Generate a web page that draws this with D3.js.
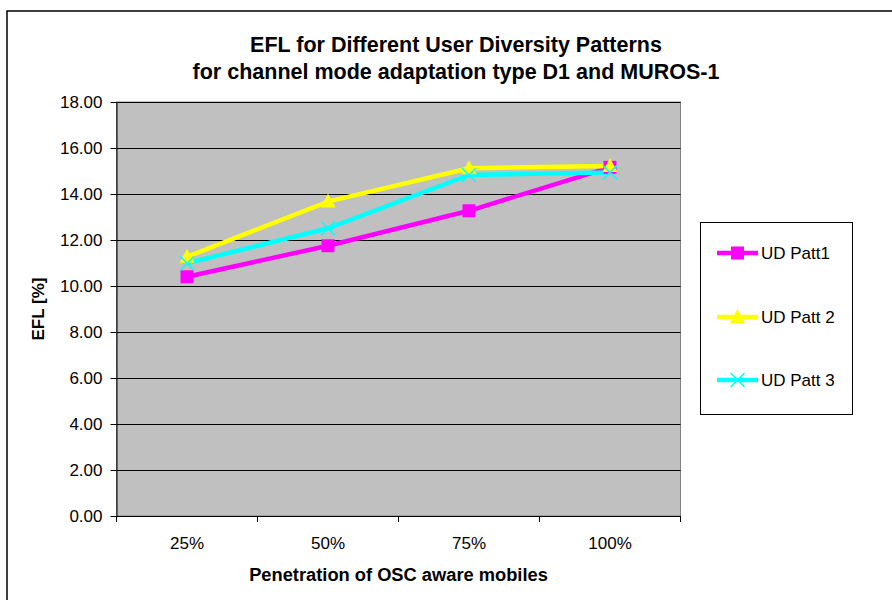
<!DOCTYPE html>
<html><head><meta charset="utf-8">
<script src="https://cdn.jsdelivr.net/npm/d3@7"></script>
<style>body{margin:0;background:#fff}svg{display:block}text{font-family:Arial,"Liberation Sans",sans-serif}</style>
</head><body><svg id="c" width="892" height="600"></svg>
<script>
const categories = ["25%", "50%", "75%", "100%"];
const yTicks = [0, 2, 4, 6, 8, 10, 12, 14, 16, 18];
const seriesNames = ["UD Patt1", "UD Patt 2", "UD Patt 3"];
const patt1 = [10.40, 11.75, 13.27, 15.16];
const patt2 = [11.27, 13.67, 15.12, 15.22];
const patt3 = [10.99, 12.51, 14.83, 14.94];
const colors = ["#FF00FF", "#FFFF00", "#00FFFF"];
const markers = ["square", "triangle", "x"];

const svg = d3.select("#c");
svg.append("path").attr("d","M7,600 V11 H892").attr("fill","none").attr("stroke","#000").attr("stroke-width",1.5);

const L=116.5, R=680.5, T=102, B=516;
const x = d3.scaleBand().domain(categories).range([L,R]);
const y = d3.scaleLinear().domain([0,18]).range([B,T]);

svg.append("rect").attr("x",L).attr("y",T).attr("width",R-L).attr("height",B-T).attr("fill","#C0C0C0").attr("stroke","#808080");
svg.append("g").selectAll("line").data(yTicks.filter(d=>d>0)).join("line")
 .attr("x1",L).attr("x2",R).attr("y1",d=>Math.round(y(d))+0.5).attr("y2",d=>Math.round(y(d))+0.5).attr("stroke","#000").attr("stroke-width",1);

const yAxis = svg.append("g").attr("transform",`translate(${L},0)`)
 .call(d3.axisLeft(y).tickValues(yTicks).tickFormat(d3.format(".2f")).tickSize(6).tickSizeOuter(0));
yAxis.select(".domain").attr("stroke","#000");
yAxis.selectAll("text").attr("font-size",17).attr("fill","#000").attr("dx",-5).attr("font-family","Arial");

const xAxis = svg.append("g").attr("transform",`translate(0,${B})`)
 .call(d3.axisBottom(x).tickSize(0).tickSizeOuter(0));
xAxis.select(".domain").attr("stroke","#000");
xAxis.selectAll("text").attr("font-size",17).attr("fill","#000").attr("dy",30).attr("font-family","Arial");
const bounds = categories.map(c=>x(c)).concat([R]);
svg.append("g").selectAll("line").data(bounds).join("line")
 .attr("x1",d=>d).attr("x2",d=>d).attr("y1",B).attr("y2",B+6).attr("stroke","#000");

svg.append("text").attr("x",456).attr("y",52).attr("text-anchor","middle").attr("font-size",21.5).attr("font-weight","bold").text("EFL for Different User Diversity Patterns");
svg.append("text").attr("x",456).attr("y",79).attr("text-anchor","middle").attr("font-size",21.5).attr("font-weight","bold").text("for channel mode adaptation type D1 and MUROS-1");
svg.append("text").attr("x",398.5).attr("y",581).attr("text-anchor","middle").attr("font-size",18.3).attr("font-weight","bold").text("Penetration of OSC aware mobiles");
svg.append("text").attr("transform",`translate(44,${(T+B)/2}) rotate(-90)`).attr("text-anchor","middle").attr("font-size",17).attr("font-weight","bold").text("EFL [%]");

const data = [patt1, patt2, patt3];
const cx = c => x(c) + x.bandwidth()/2;
function drawMarker(g, type, px, py, color){
  if(type==="square") g.append("rect").attr("x",px-6.5).attr("y",py-6.5).attr("width",13).attr("height",13).attr("fill",color);
  else if(type==="triangle") g.append("path").attr("d",`M${px},${py-8} L${px+7.5},${py+6} L${px-7.5},${py+6} Z`).attr("fill",color);
  else g.append("path").attr("d",`M${px-7},${py-7} L${px+7},${py+7} M${px+7},${py-7} L${px-7},${py+7}`).attr("stroke",color).attr("stroke-width",1.5);
}
const line = d3.line().x((d,i)=>cx(categories[i])).y(d=>y(d));
data.forEach((s,k)=>{
  svg.append("path").datum(s).attr("d",line).attr("fill","none").attr("stroke",colors[k]).attr("stroke-width",4.5);
});
data.forEach((s,k)=>{
  const g = svg.append("g");
  s.forEach((v,i)=>drawMarker(g, markers[k], cx(categories[i]), y(v), colors[k]));
});

svg.append("rect").attr("x",700.5).attr("y",222.5).attr("width",152).attr("height",192).attr("fill","#fff").attr("stroke","#000");
const ly = [253, 317, 380];
seriesNames.forEach((n,k)=>{
  const g = svg.append("g");
  g.append("line").attr("x1",717).attr("x2",758).attr("y1",ly[k]).attr("y2",ly[k]).attr("stroke",colors[k]).attr("stroke-width",4.5);
  drawMarker(g, markers[k], 737.5, ly[k], colors[k]);
  g.append("text").attr("x",761).attr("y",ly[k]+6).attr("font-size",17).text(n);
});
</script></body></html>
